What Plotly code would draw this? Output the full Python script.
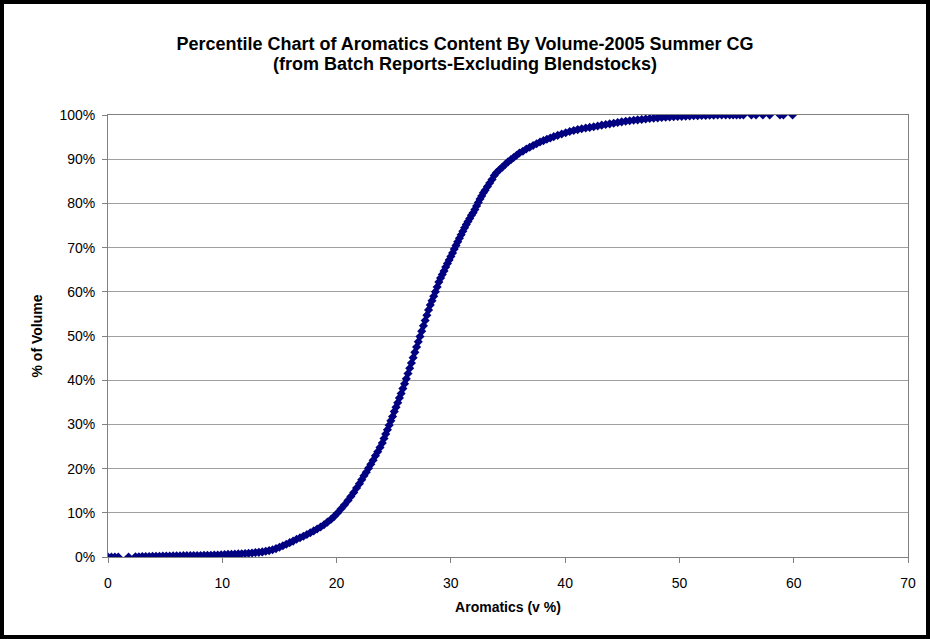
import plotly.graph_objects as go

# ---- data (Aromatics v%, cumulative % of volume) ----
aromatics_low = [0.0, 0.3, 0.6, 0.9, 1.8, 2.4, 2.7, 3.0, 3.3, 3.6,
                 3.9, 4.2, 4.5, 4.8, 5.1, 5.4, 5.7, 6.0, 6.3, 6.6,
                 6.9, 7.2, 7.5, 7.8, 8.1, 8.4, 8.7, 9.0, 9.3, 9.6,
                 9.9, 10.2, 10.5, 10.8, 11.1, 11.4, 11.7, 12.0, 12.3, 12.6,
                 12.9, 13.2, 13.5, 13.8, 14.1, 14.4, 14.7, 15.0, 15.3, 15.6,
                 15.9, 16.2, 16.5, 16.8, 17.1, 17.4, 17.7, 18.0, 18.3, 18.6,
                 18.9, 19.2, 19.5, 19.8, 20.1, 20.4, 20.7, 21.0]
volume_low = [0.0, 0.0, 0.0, 0.0, 0.0, 0.05, 0.05, 0.1, 0.1, 0.1,
              0.15, 0.15, 0.15, 0.2, 0.2, 0.2, 0.25, 0.25, 0.25, 0.3,
              0.3, 0.3, 0.35, 0.35, 0.35, 0.4, 0.4, 0.4, 0.45, 0.45,
              0.5, 0.55, 0.6, 0.6, 0.65, 0.7, 0.75, 0.8, 0.85, 0.9,
              1.0, 1.05, 1.15, 1.3, 1.45, 1.65, 1.9, 2.2, 2.55, 2.9,
              3.25, 3.6, 4.0, 4.35, 4.7, 5.1, 5.5, 5.9, 6.35, 6.8,
              7.3, 7.9, 8.5, 9.2, 10.0, 10.9, 11.8, 12.8]

aromatics_mid = [21.25, 21.5, 21.75, 22.0, 22.2, 22.4, 22.6, 22.8, 23.0, 23.2,
                 23.4, 23.6, 23.8, 24.0, 24.15, 24.3, 24.45, 24.6, 24.75, 24.9,
                 25.05, 25.2, 25.35, 25.5, 25.65, 25.8, 25.95, 26.1, 26.25, 26.4,
                 26.55, 26.7, 26.85, 27.0, 27.15, 27.3, 27.45, 27.6, 27.75, 27.9,
                 28.05, 28.2, 28.35, 28.5, 28.65, 28.8, 28.95, 29.1, 29.25, 29.4,
                 29.55, 29.7, 29.85, 30.0, 30.15, 30.3, 30.45, 30.6, 30.75, 30.9,
                 31.05, 31.2, 31.35, 31.5, 31.65, 31.8, 31.95, 32.1, 32.25, 32.4,
                 32.55, 32.7, 32.85, 33.0, 33.2, 33.4, 33.6, 33.8, 34.0]
volume_mid = [13.7, 14.6, 15.6, 16.6, 17.5, 18.4, 19.2, 20.1, 21.0, 21.9,
              22.9, 23.8, 24.8, 25.8, 26.8, 27.8, 28.8, 29.8, 30.8, 31.8,
              32.9, 33.9, 34.9, 36.0, 37.0, 38.1, 39.2, 40.3, 41.5, 42.7,
              43.9, 45.1, 46.3, 47.5, 48.7, 49.9, 51.1, 52.3, 53.5, 54.7,
              55.9, 57.0, 58.0, 59.0, 60.0, 61.1, 62.2, 63.1, 63.9, 64.7,
              65.6, 66.4, 67.2, 68.0, 68.8, 69.7, 70.5, 71.3, 72.1, 72.9,
              73.7, 74.5, 75.2, 75.9, 76.6, 77.3, 77.9, 78.6, 79.4, 80.2,
              81.0, 81.7, 82.4, 83.0, 83.8, 84.6, 85.4, 86.3, 87.0]

aromatics_high = [34.25, 34.5, 34.75, 35.0, 35.25, 35.5, 35.75, 36.0, 36.3, 36.6,
                  36.9, 37.2, 37.5, 37.8, 38.1, 38.4, 38.7, 39.0, 39.35, 39.7,
                  40.05, 40.4, 40.75, 41.1, 41.45, 41.8, 42.15, 42.5, 42.85, 43.2,
                  43.55, 43.9, 44.25, 44.6, 44.95, 45.3, 45.65, 46.0, 46.35, 46.7,
                  47.05, 47.4, 47.75, 48.1, 48.45, 48.8, 49.15, 49.5, 49.85, 50.2,
                  50.55, 50.9, 51.25, 51.6, 51.95, 52.3, 52.65, 53.0, 53.35, 53.7,
                  54.05, 54.4, 54.7, 55.0, 55.3, 55.6, 56.3, 56.7, 57.3, 57.9,
                  58.8, 59.1, 59.9]
volume_high = [87.6, 88.2, 88.8, 89.4, 89.9, 90.4, 90.9, 91.4, 91.8, 92.3,
               92.7, 93.1, 93.5, 93.9, 94.2, 94.5, 94.8, 95.1, 95.4, 95.7,
               96.0, 96.25, 96.5, 96.7, 96.9, 97.05, 97.2, 97.35, 97.5, 97.7,
               97.85, 98.0, 98.15, 98.3, 98.45, 98.6, 98.7, 98.8, 98.9, 99.0,
               99.1, 99.2, 99.3, 99.35, 99.45, 99.5, 99.55, 99.6, 99.65, 99.7,
               99.75, 99.8, 99.85, 99.85, 99.9, 99.9, 99.95, 99.95, 100, 100,
               100, 100, 100, 100, 100, 100, 100, 100, 100, 100,
               100, 100, 100]

x_ticks = [0, 10, 20, 30, 40, 50, 60, 70]
y_ticks = [0, 10, 20, 30, 40, 50, 60, 70, 80, 90, 100]
y_tick_labels = [f"{v}%" for v in y_ticks]

title_line1 = "<b>Percentile Chart of Aromatics Content By Volume-2005 Summer CG</b>"
title_line2 = "<b>(from Batch Reports-Excluding Blendstocks)</b>"
x_title = "<b>Aromatics (v %)</b>"
y_title = "<b>% of Volume</b>"

x_all = aromatics_low + aromatics_mid + aromatics_high
y_all = volume_low + volume_mid + volume_high
assert len(x_all) == len(y_all)

FONT = "Liberation Sans, Arial, sans-serif"
W, H = 930, 639
ML, MR, MT, MB = 108, 22, 115, 82
PW, PH = W - ML - MR, H - MT - MB

fig = go.Figure()
fig.add_trace(go.Scatter(
    x=x_all, y=y_all, mode="markers",
    marker=dict(symbol="diamond", size=7, color="#000080",
                line=dict(width=0)),
    showlegend=False, hoverinfo="x+y"))

fig.update_layout(
    width=W, height=H,
    margin=dict(l=ML, r=MR, t=MT, b=MB, pad=0),
    paper_bgcolor="white", plot_bgcolor="white",
    font=dict(family=FONT, size=14, color="black"),
    title=dict(text=title_line1, x=0.5, xanchor="center", y=1 - 44 / H,
               yanchor="middle", font=dict(family=FONT, size=18, color="black")),
    xaxis=dict(range=[0, 70], tickvals=x_ticks, ticks="outside", ticklen=5,
               tickcolor="#808080", showgrid=False, zeroline=False,
               showline=True, linecolor="#808080", linewidth=1, mirror=True,
               tickfont=dict(size=14), ticklabelstandoff=8,
               title=dict(text=x_title, font=dict(size=14), standoff=12)),
    yaxis=dict(range=[0, 100], tickvals=y_ticks, ticktext=y_tick_labels,
               ticks="outside", ticklen=5, tickcolor="#808080",
               showgrid=True, gridcolor="#a0a0a0", gridwidth=1,
               zeroline=False, showline=True, linecolor="#808080",
               linewidth=1, mirror=True, tickfont=dict(size=14),
               ticklabelstandoff=4,
               title=dict(text=y_title, font=dict(size=14), standoff=13)),
)

# second title line
fig.add_annotation(text=title_line2, xref="paper", yref="paper",
                   x=(W / 2 - ML) / PW, y=1 + (MT - 64) / PH,
                   xanchor="center", yanchor="middle", showarrow=False,
                   font=dict(family=FONT, size=18, color="black"))

# outer black frame around the whole chart
bw = 4
fig.add_shape(type="rect", xref="paper", yref="paper",
              x0=-(ML - bw / 2) / PW, x1=1 + (MR - bw / 2) / PW,
              y0=-(MB - bw / 2) / PH, y1=1 + (MT - bw / 2) / PH,
              line=dict(color="black", width=bw), fillcolor="rgba(0,0,0,0)",
              layer="above")

fig.write_html("out.html",
               config={"displayModeBar": False},
               post_script="document.body.style.margin='0';"
                           "document.body.style.overflow='hidden';")
